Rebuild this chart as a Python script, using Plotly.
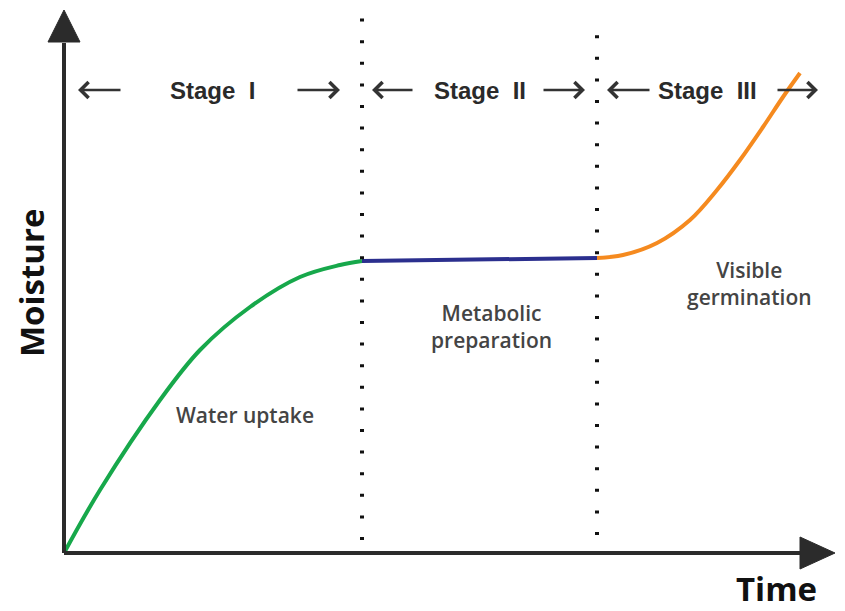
import plotly.graph_objects as go

# ---- data (time units, moisture units; origin of axes at 0,0) ----
stage1_time = [0.0, 3.6, 9.6, 13.6, 18.6, 23.6, 27.6, 29.8]
stage1_moist = [0.0, 6.3, 15.3, 20.3, 24.6, 27.6, 28.8, 29.2]

stage2_time = [29.8, 53.3]
stage2_moist = [29.2, 29.5]

stage3_time = [53.3, 55.9, 59.3, 62.6, 65.3, 67.6, 69.9, 71.9, 73.6]
stage3_moist = [29.5, 29.8, 31.0, 33.3, 36.3, 39.3, 42.6, 45.6, 48.0]

stage_bounds = [29.8, 53.3]
stage_labels = ["Stage\u00a0\u00a0I", "Stage\u00a0\u00a0II", "Stage\u00a0\u00a0III"]
stage_label_x = [14.8, 41.6, 64.3]
process_labels = ["Water uptake", "Metabolic<br>preparation", "Visible<br>germination"]
process_label_x = [18.1, 42.7, 68.5]
process_label_y = [13.8, 22.7, 27.0]

X_RANGE = [-6.4, 78.1]
Y_RANGE = [-5.8, 55.3]

fig = go.Figure()

fig.add_trace(go.Scatter(x=stage1_time, y=stage1_moist, mode="lines",
                         line=dict(color="#17a84b", width=4, shape="spline", smoothing=1.0),
                         hoverinfo="skip", showlegend=False))
fig.add_trace(go.Scatter(x=stage2_time, y=stage2_moist, mode="lines",
                         line=dict(color="#2b2f8e", width=4),
                         hoverinfo="skip", showlegend=False))
fig.add_trace(go.Scatter(x=stage3_time, y=stage3_moist, mode="lines",
                         line=dict(color="#f58a1f", width=4, shape="spline", smoothing=1.0),
                         hoverinfo="skip", showlegend=False))

axis_col = "#2b2b2b"
shapes = []
# axes
shapes.append(dict(type="line", x0=0, y0=0, x1=0, y1=51.0, line=dict(color=axis_col, width=4)))
shapes.append(dict(type="line", x0=0, y0=0, x1=74.0, y1=0, line=dict(color=axis_col, width=4)))
# arrowheads
shapes.append(dict(type="path", path="M -1.6,51.1 L 1.6,51.1 L 0,54.3 Z",
                   fillcolor=axis_col, line=dict(color=axis_col, width=1)))
shapes.append(dict(type="path", path="M 73.6,1.6 L 73.6,-1.6 L 77.1,0 Z",
                   fillcolor=axis_col, line=dict(color=axis_col, width=1)))
# dotted stage boundaries
shapes.append(dict(type="line", x0=stage_bounds[0], x1=stage_bounds[0], y0=1.3, y1=54.2,
                   line=dict(color="#111111", width=4, dash="3px,18.6px")))
shapes.append(dict(type="line", x0=stage_bounds[1], x1=stage_bounds[1], y0=1.8, y1=52.2,
                   line=dict(color="#111111", width=4, dash="3px,18.6px")))

annotations = []
arrow_y = 46.3
arrow_pairs = [(1.4, 5.8, 27.6, 23.2), (30.8, 35.0, 52.1, 47.8), (54.3, 58.7, 75.4, 71.2)]
for (l_tip, l_tail, r_tip, r_tail) in arrow_pairs:
    annotations.append(dict(x=l_tip, y=arrow_y, ax=l_tail, ay=arrow_y, xref="x", yref="y",
                            axref="x", ayref="y", text="", showarrow=True, arrowhead=4,
                            arrowsize=1.3, arrowwidth=2.4, arrowcolor="#333333"))
    annotations.append(dict(x=r_tip, y=arrow_y, ax=r_tail, ay=arrow_y, xref="x", yref="y",
                            axref="x", ayref="y", text="", showarrow=True, arrowhead=4,
                            arrowsize=1.3, arrowwidth=2.4, arrowcolor="#333333"))

for lab, x in zip(stage_labels, stage_label_x):
    annotations.append(dict(x=x, y=arrow_y, xref="x", yref="y", text="<b>" + lab + "</b>",
                            showarrow=False,
                            font=dict(family="Liberation Sans, Arial", size=24, color="#2a2a2a")))

for lab, x, y in zip(process_labels, process_label_x, process_label_y):
    annotations.append(dict(x=x, y=y, xref="x", yref="y", text=lab, showarrow=False,
                            font=dict(family="Open Sans", size=21, color="#444444", weight=600)))

annotations.append(dict(x=71.2, y=-3.5, xref="x", yref="y", text="<b>Time</b>", showarrow=False,
                        font=dict(family="Open Sans", size=33, color="#111111")))
annotations.append(dict(x=-3.3, y=27.0, xref="x", yref="y", text="<b>Moisture</b>", showarrow=False,
                        textangle=-90,
                        font=dict(family="Open Sans", size=33, color="#111111")))

fig.update_layout(
    width=845, height=611,
    margin=dict(l=0, r=0, t=0, b=0),
    paper_bgcolor="white", plot_bgcolor="white",
    xaxis=dict(range=X_RANGE, visible=False, fixedrange=True),
    yaxis=dict(range=Y_RANGE, visible=False, fixedrange=True),
    shapes=shapes, annotations=annotations,
    showlegend=False,
)

fig.write_html("out.html", config={"displayModeBar": False},
               post_script="document.body.style.margin='0';")
